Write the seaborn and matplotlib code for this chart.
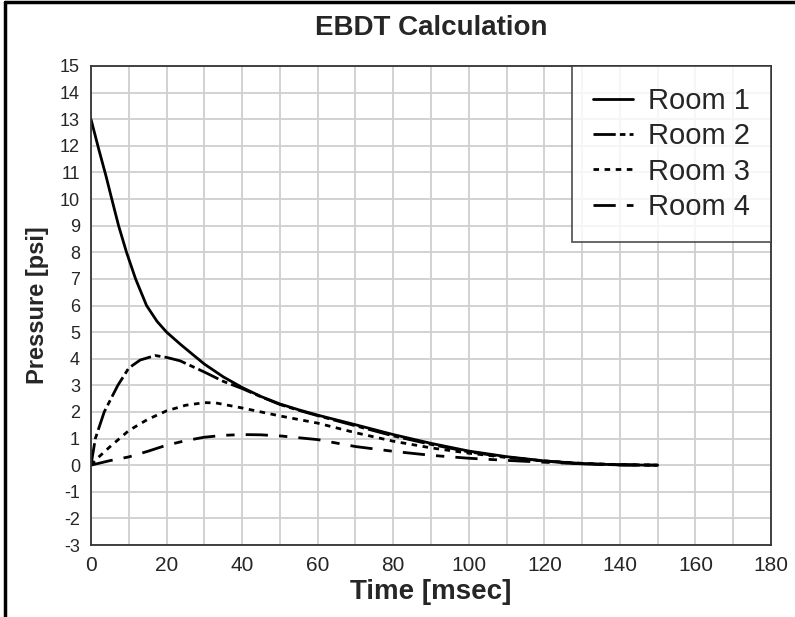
import numpy as np
import pandas as pd
import matplotlib
matplotlib.use("Agg")
import matplotlib.pyplot as plt
import seaborn as sns
from matplotlib.lines import Line2D

sns.set_theme(style="white")
plt.rcParams['font.family'] = ['Liberation Sans', 'DejaVu Sans']
plt.rcParams['axes.unicode_minus'] = False

time_r1 = [0, 2, 4, 5.5, 7.3, 9.4, 11.8, 14.7, 17.5, 20, 23.6, 27, 30, 35, 40, 45, 50, 55, 60, 70, 80, 90, 100, 110, 120, 130, 140, 150]
room1 = [13.0, 11.9, 10.85, 10.0, 9.0, 8.0, 7.0, 6.0, 5.4, 5.0, 4.55, 4.15, 3.8, 3.32, 2.92, 2.58, 2.3, 2.08, 1.88, 1.52, 1.15, 0.82, 0.53, 0.32, 0.16, 0.06, 0.01, 0.0]

time_r2 = [0, 1.15, 3.5, 7.1, 10, 13, 17, 20, 23.6, 30, 35, 40, 45, 50, 55, 60, 70, 80, 90, 100, 110, 120, 130, 140, 150]
room2 = [0.0, 1.0, 2.0, 3.0, 3.65, 3.95, 4.12, 4.05, 3.92, 3.5, 3.15, 2.88, 2.57, 2.28, 2.06, 1.86, 1.48, 1.1, 0.78, 0.5, 0.3, 0.15, 0.05, 0.01, 0.0]

time_r3 = [0, 2, 5, 10, 15, 20, 25, 30, 33, 40, 50, 60, 70, 80, 90, 100, 110, 120, 130, 140, 150]
room3 = [0.0, 0.3, 0.69, 1.3, 1.72, 2.04, 2.25, 2.35, 2.34, 2.15, 1.85, 1.58, 1.22, 0.9, 0.65, 0.45, 0.29, 0.16, 0.07, 0.02, 0.0]

time_r4 = [0, 5, 10, 15, 20, 25, 30, 35, 40, 45, 50, 60, 70, 80, 90, 100, 110, 120, 130, 140, 150]
room4 = [0.0, 0.17, 0.31, 0.52, 0.75, 0.92, 1.05, 1.12, 1.15, 1.14, 1.1, 0.96, 0.7, 0.52, 0.37, 0.26, 0.18, 0.11, 0.05, 0.015, 0.0]

rooms = ["Room 1", "Room 2", "Room 3", "Room 4"]
x_ticks = list(range(0, 181, 20))
y_ticks = list(range(-3, 16))

frames = []
for name, t, p in zip(rooms, [time_r1, time_r2, time_r3, time_r4], [room1, room2, room3, room4]):
    frames.append(pd.DataFrame({"Time": t, "Pressure": p, "Room": name}))
df = pd.concat(frames, ignore_index=True)

fig = plt.figure(figsize=(7.95, 6.17), dpi=100)
ax = fig.add_axes([91/795, 1-545/617, (771-91)/795, (545-66)/617])

dashes = {"Room 1": "", "Room 2": (8, 1.5, 2, 1.5), "Room 3": (2, 2), "Room 4": (8, 4, 3, 4)}
sns.lineplot(data=df, x="Time", y="Pressure", style="Room", dashes=dashes,
             color="black", linewidth=2, ax=ax, sort=False, estimator=None)

ax.set_xlim(0, 180)
ax.set_ylim(-3, 15)
ax.set_xticks(x_ticks)
ax.set_xticks(range(0, 181, 10), minor=True)
ax.set_yticks(y_ticks)
ax.grid(True, which="both", color="#cfcfcf", linewidth=1.3)
ax.set_axisbelow(True)
ax.tick_params(axis="both", which="both", length=0)
ax.tick_params(axis="y", labelsize=13, pad=8)
ax.tick_params(axis="x", labelsize=15, pad=8)
for s in ax.spines.values():
    s.set_color("#333333")
    s.set_linewidth(1.3)
    s.set_visible(True)

ax.set_xlabel("Time [msec]", fontsize=20, fontweight="bold", labelpad=3)
ax.set_ylabel("Pressure [psi]", fontsize=17, fontweight="bold", labelpad=8)
fig.text((91+771)/2/795, 1-28/617, "EBDT Calculation", ha="center", va="center",
         fontsize=20, fontweight="bold")

leg = ax.legend(loc="upper right", fontsize=21, frameon=True, fancybox=False,
                borderaxespad=0, handlelength=1.4, labelspacing=0.25,
                borderpad=0.72, handletextpad=0.5)
leg.get_frame().set_edgecolor("#333333")
leg.get_frame().set_linewidth(1.3)
for h in leg.get_lines():
    h.set_linewidth(2)

fig.add_artist(Line2D([5/795, 5/795], [0, 1-2/617], color="black", linewidth=2.5, transform=fig.transFigure))
fig.add_artist(Line2D([5/795, 1], [1-2/617, 1-2/617], color="black", linewidth=2.5, transform=fig.transFigure))

fig.savefig("out.png", dpi=100)
